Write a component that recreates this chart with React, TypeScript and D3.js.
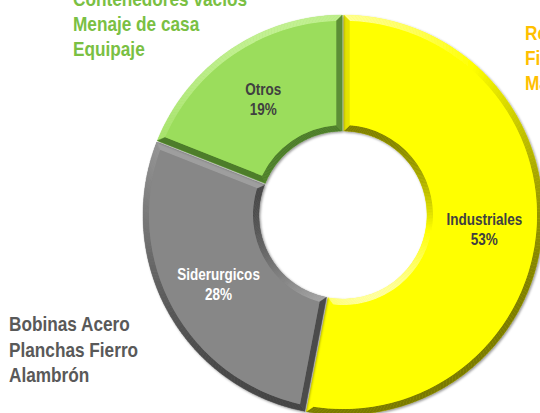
import React from "react";
import * as d3 from "d3";

const categories = ["Industriales", "Siderurgicos", "Otros"];
const values = [53, 28, 19];
const mainColors = ["#FFFF00", "#878787", "#9BDD5B"];
const darkColors = ["#7A7A00", "#434343", "#4B7A2A"];
const lightColors = ["#FFFFA8", "#B4B4B4", "#C2F092"];
const labelColors = ["#404040", "#FFFFFF", "#404040"];

const notesGreen = ["Contenedores vacíos", "Menaje de casa", "Equipaje"];
const notesGray = ["Bobinas Acero", "Planchas Fierro", "Alambrón"];
const notesOrange = ["Repuestos", "Fierro", "Maquinaria"];

const W = 540;
const H = 413;
const CX = 343;
const CY = 215;
const R = 200;
const r = 84;
const BEVEL = 6;
const GAP = 0.8;
const FONT = "'Liberation Sans', Arial, sans-serif";
const NARROW = 0.82;

const L = (() => {
  const x = -0.35, y = -1;
  const m = Math.hypot(x, y);
  return [x / m, y / m];
})();

function pt(rad: number, a: number): [number, number] {
  return [CX + rad * Math.sin(a), CY - rad * Math.cos(a)];
}

function shade(i: number, n: [number, number]) {
  const t = n[0] * L[0] + n[1] * L[1];
  if (t > 0.5) return d3.interpolateRgb(mainColors[i], lightColors[i])((t - 0.5) / 0.5);
  const k = Math.pow((t + 1) / 1.5, 2);
  return d3.interpolateRgb(darkColors[i], mainColors[i])(k);
}

function ringPath(ro: number, ri: number, o0: number, o1: number, i0: number, i1: number) {
  const p = d3.path();
  const s = pt(ro, o0);
  p.moveTo(s[0], s[1]);
  p.arc(CX, CY, ro, o0 - Math.PI / 2, o1 - Math.PI / 2, false);
  const e = pt(ri, i1);
  p.lineTo(e[0], e[1]);
  p.arc(CX, CY, ri, i1 - Math.PI / 2, i0 - Math.PI / 2, true);
  p.closePath();
  return p.toString();
}

function poly(pts: [number, number][]) {
  return "M" + pts.map((q) => q[0].toFixed(2) + "," + q[1].toFixed(2)).join("L") + "Z";
}

function NarrowText(props: {
  x: number;
  y: number;
  size: number;
  fill: string;
  anchor?: string;
  children: React.ReactNode;
}) {
  return (
    <text
      transform={`translate(${props.x},${props.y}) scale(${NARROW},1)`}
      textAnchor={props.anchor || "start"}
      fontFamily={FONT}
      fontWeight="bold"
      fontSize={props.size}
      fill={props.fill}
    >
      {props.children}
    </text>
  );
}

export default function App() {
  const pie = d3.pie<number>().sort(null).value((d) => d)(values);

  const slices = pie.map((s, i) => {
    const a0 = s.startAngle, a1 = s.endAngle;
    const d = GAP;
    const A0o = a0 + Math.asin(d / R), A1o = a1 - Math.asin(d / R);
    const A0i = a0 + Math.asin(d / r), A1i = a1 - Math.asin(d / r);
    const Ro = R - BEVEL, Ri = r + BEVEL;
    const F0o = a0 + Math.asin((d + BEVEL) / Ro), F1o = a1 - Math.asin((d + BEVEL) / Ro);
    const F0i = a0 + Math.asin((d + BEVEL) / Ri), F1i = a1 - Math.asin((d + BEVEL) / Ri);

    const pieces: { d: string; c: string }[] = [];
    const N = Math.max(8, Math.ceil(((a1 - a0) * 180) / Math.PI));
    for (let k = 0; k < N; k++) {
      const u0 = k / N, u1 = (k + 1) / N;
      const th0 = A0o + (A1o - A0o) * u0, th1 = A0o + (A1o - A0o) * u1;
      const ph0 = F0o + (F1o - F0o) * u0, ph1 = F0o + (F1o - F0o) * u1;
      const m = (th0 + th1) / 2;
      pieces.push({
        d: poly([pt(R, th0), pt(R, th1), pt(Ro, ph1), pt(Ro, ph0)]),
        c: shade(i, [Math.sin(m), -Math.cos(m)]),
      });
      const it0 = A0i + (A1i - A0i) * u0, it1 = A0i + (A1i - A0i) * u1;
      const ip0 = F0i + (F1i - F0i) * u0, ip1 = F0i + (F1i - F0i) * u1;
      const mi = (it0 + it1) / 2;
      pieces.push({
        d: poly([pt(r, it0), pt(r, it1), pt(Ri, ip1), pt(Ri, ip0)]),
        c: shade(i, [-Math.sin(mi), Math.cos(mi)]),
      });
    }
    pieces.push({
      d: poly([pt(R, A0o), pt(Ro, F0o), pt(Ri, F0i), pt(r, A0i)]),
      c: shade(i, [-Math.cos(a0), -Math.sin(a0)]),
    });
    pieces.push({
      d: poly([pt(R, A1o), pt(Ro, F1o), pt(Ri, F1i), pt(r, A1i)]),
      c: shade(i, [Math.cos(a1), Math.sin(a1)]),
    });

    const outline = ringPath(R, r, A0o, A1o, A0i, A1i);
    const face = ringPath(Ro, Ri, F0o, F1o, F0i, F1i);
    const mid = (a0 + a1) / 2;
    const c = pt((R + r) / 2, mid);
    return { i, outline, face, pieces, c };
  });

  const arcLabelSize = 16.5;
  const noteSize = 21;

  return (
    <svg
      width={W}
      height={H}
      viewBox={`0 0 ${W} ${H}`}
      style={{ position: "absolute", left: 0, top: 0, background: "#fff" }}
    >
      <defs>
        <filter id="sh" x="-20%" y="-20%" width="140%" height="140%">
          <feDropShadow dx="1.2" dy="1.2" stdDeviation="1.3" floodColor="#000" floodOpacity="0.4" />
        </filter>
      </defs>
      {slices.map((s) => (
        <g key={s.i} filter="url(#sh)">
          <path d={s.outline} fill={mainColors[s.i]} />
          {s.pieces.map((p, k) => (
            <path key={k} d={p.d} fill={p.c} stroke={p.c} strokeWidth={0.4} />
          ))}
          <path d={s.face} fill={mainColors[s.i]} />
        </g>
      ))}
      {slices.map((s) => (
        <g key={"l" + s.i}>
          <NarrowText x={s.c[0]} y={s.c[1] - 3} size={arcLabelSize} fill={labelColors[s.i]} anchor="middle">
            {categories[s.i]}
          </NarrowText>
          <NarrowText x={s.c[0]} y={s.c[1] + 17} size={arcLabelSize} fill={labelColors[s.i]} anchor="middle">
            {values[s.i] + "%"}
          </NarrowText>
        </g>
      ))}
      {notesGreen.map((t, k) => (
        <NarrowText key={"g" + k} x={73} y={6 + k * 25} size={noteSize} fill="#7AC043">{t}</NarrowText>
      ))}
      {notesGray.map((t, k) => (
        <NarrowText key={"y" + k} x={9} y={331 + k * 25.5} size={noteSize} fill="#595959">{t}</NarrowText>
      ))}
      {notesOrange.map((t, k) => (
        <NarrowText key={"o" + k} x={525} y={40 + k * 25} size={noteSize} fill="#FFC000">{t}</NarrowText>
      ))}
    </svg>
  );
}
